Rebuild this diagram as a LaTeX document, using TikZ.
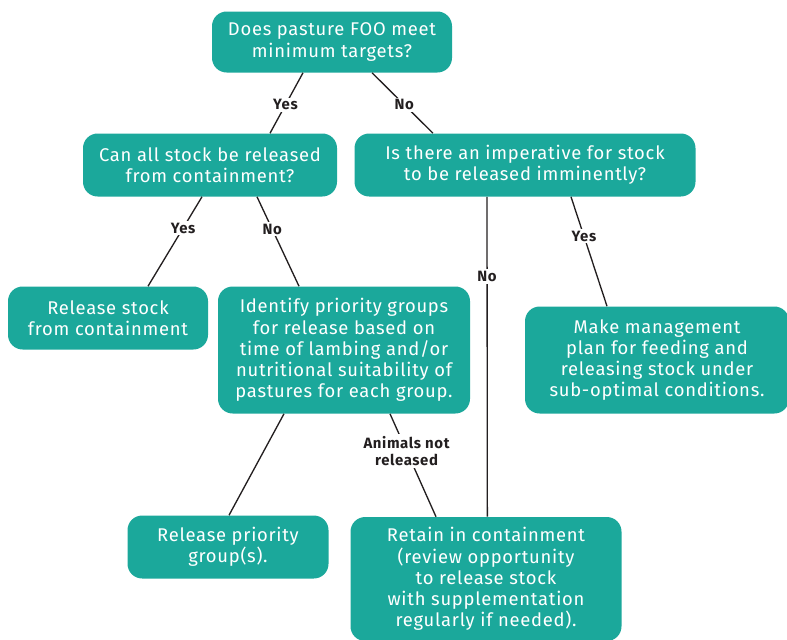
\documentclass[tikz,border=0pt]{standalone}
\usepackage{fontspec}
\setmainfont[LetterSpace=4]{Fira Sans}
\usetikzlibrary{positioning}
\definecolor{teal}{HTML}{1BA89B}
\definecolor{ink}{HTML}{231F20}

\tikzset{
  box/.style={fill=teal,text=white,rounded corners=11pt,align=center,
    inner sep=2pt,font=\fontsize{13.8}{15.9}\selectfont},
  lbl/.style={fill=white,text=ink,inner sep=1.5pt,align=center,
    font=\fontsize{11.2}{13}\selectfont\bfseries},
  link/.style={draw=ink,line width=1pt}
}

\begin{document}
\begin{tikzpicture}[x=0.75pt,y=-0.75pt]
\useasboundingbox (0,0) rectangle (787,639);

\node[box,minimum width=180pt,minimum height=45.75pt] (foo) at (332,42) {Does pasture FOO meet\\minimum targets?};
\node[box,minimum width=190.5pt,minimum height=47.25pt] (all) at (210,165) {Can all stock be released\\from containment?};
\node[box,minimum width=255.75pt,minimum height=47.25pt] (imp) at (525,165) {Is there an imperative for stock\\to be released imminently?};
\node[box,minimum width=150pt,minimum height=47.25pt] (rel) at (108,318) {Release stock\\from containment};
\node[box,minimum width=189pt,minimum height=95.25pt] (prio) at (344,350) {Identify priority groups\\for release based on\\time of lambing and/or\\nutritional suitability of\\pastures for each group.};
\node[box,minimum width=198pt,minimum height=80.25pt] (plan) at (657,360) {Make management\\plan for feeding and\\releasing stock under\\sub-optimal conditions.};
\node[box,minimum width=150.75pt,minimum height=47.25pt] (grp) at (228,547) {Release priority\\group(s).};
\node[box,minimum width=203.25pt,minimum height=93pt] (keep) at (486,579) {Retain in containment\\(review opportunity\\to release stock\\with supplementation\\regularly if needed).};

% question links
\draw[link] ([xshift=-21.75pt]foo.south) -- node[lbl,pos=0.53] {Yes} ([xshift=45pt]all.north);
\draw[link] ([xshift=30pt]foo.south) -- node[lbl,pos=0.53] {No} ([xshift=-69pt]imp.north);
\draw[link] ([xshift=-6pt]all.south) -- node[lbl,pos=0.35] {Yes} ([xshift=30pt]rel.north);
\draw[link] ([xshift=35.25pt]all.south) -- node[lbl,pos=0.36] {No} ([xshift=-33.75pt]prio.north);
\draw[link] ([xshift=-28.5pt]imp.south) -- node[lbl,pos=0.25] {No} ([xshift=1pt]keep.north);
\draw[link] ([xshift=34.5pt]imp.south) -- node[lbl,pos=0.36] {Yes} ([xshift=-37.5pt]plan.north);

% outcome links
\draw[link] ([xshift=-45pt]prio.south) -- ([xshift=0.75pt]grp.north);
\draw[link] ([xshift=34.5pt]prio.south) -- node[lbl,pos=0.36] {Animals not\\released} ([xshift=-37.5pt]keep.north);
\end{tikzpicture}
\end{document}
